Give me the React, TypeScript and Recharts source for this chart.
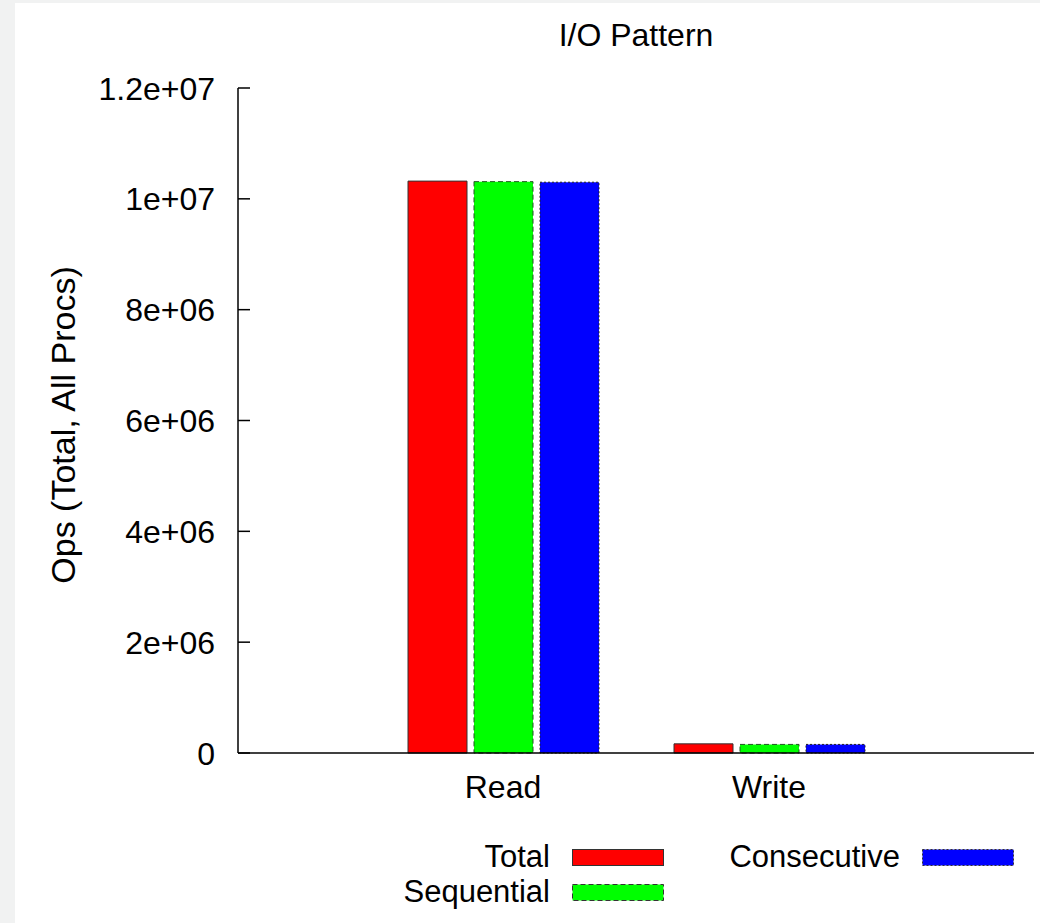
import React from 'react';
import { BarChart, Bar, XAxis, YAxis, Legend, Label } from 'recharts';

const categories = ['Read', 'Write'];
const totalOps = [10320000, 165000];
const sequentialOps = [10310000, 155000];
const consecutiveOps = [10300000, 155000];
const yTicks = [0, 2000000, 4000000, 6000000, 8000000, 10000000, 12000000];
const seriesNames = ['Total', 'Sequential', 'Consecutive'];

const data = categories.map((name, i) => ({
  name,
  Total: totalOps[i],
  Sequential: sequentialOps[i],
  Consecutive: consecutiveOps[i],
}));

const FONT = '"Liberation Sans", Arial, Helvetica, sans-serif';
const FS = 32;

// gnuplot style %g labels
const fmt = (v: number) => (v === 0 ? '0' : v.toExponential().replace(/e\+(\d)$/, 'e+0$1'));

const YTick = (props: any) => {
  const { x, y, payload } = props;
  return (
    <g>
      <line x1={x} y1={y} x2={x + 12} y2={y} stroke="#000" strokeWidth={1.5} />
      <text x={x - 23} y={y} dy="0.36em" textAnchor="end" fontSize={FS} fontFamily={FONT} fill="#000">
        {fmt(payload.value)}
      </text>
    </g>
  );
};

const swatches: Record<string, { fill: string; dash?: string }> = {
  Total: { fill: '#ff0000' },
  Sequential: { fill: '#00ff00', dash: '5 3' },
  Consecutive: { fill: '#0000ff', dash: '2 2' },
};

// key laid out column-wise like gnuplot: Total, Sequential | Consecutive
const KeyContent = (props: any) => {
  const items = props.payload || [];
  return (
    <div style={{ position: 'relative', height: 0 }}>
      {items.map((it: any) => {
        const i = seriesNames.indexOf(it.value);
        const col = i < 2 ? 0 : 1;
        const row = i < 2 ? i : i - 2;
        const right = col === 0 ? 535 : 885;
        const cy = row === 0 ? -1 : 34;
        const sw = swatches[it.value];
        return (
          <div key={it.value}>
            <div style={{ position: 'absolute', left: right - 300, width: 300, top: cy - 15, height: 30, textAlign: 'right', fontFamily: FONT, fontSize: 31, lineHeight: '30px', color: '#000' }}>
              {it.value}
            </div>
            <svg style={{ position: 'absolute', left: right + 22, top: cy - 8 }} width={92} height={17}>
              <rect x={0.5} y={0.5} width={91} height={16} fill={sw.fill} stroke="#333" strokeDasharray={sw.dash} />
            </svg>
          </div>
        );
      })}
    </div>
  );
};

export default function App() {
  return (
    <div style={{ position: 'absolute', left: 0, top: 0, width: 1040, height: 923, background: '#f1f2f2' }}>
      <div style={{ position: 'absolute', left: 15, top: 3, width: 1025, height: 920, background: '#fff' }}>
        <div style={{ position: 'absolute', left: 0, width: 1242, top: 14, textAlign: 'center', fontFamily: FONT, fontSize: 32, color: '#000' }}>
          I/O Pattern
        </div>
        <BarChart
          width={1025}
          height={920}
          data={data}
          margin={{ top: 85, right: 6, left: 0, bottom: 130 }}
          barSize={59}
          barGap={7}
          style={{ position: 'absolute', left: 0, top: 0 }}
        >
          <XAxis
            dataKey="name"
            height={40}
            padding={{ left: 132, right: 132 }}
            axisLine={{ stroke: '#000', strokeWidth: 1.5 }}
            tickLine={false}
            tickSize={0}
            tickMargin={22}
            tick={{ fill: '#000', fontSize: FS, fontFamily: FONT }}
          />
          <YAxis
            width={223}
            domain={[0, 12000000]}
            ticks={yTicks}
            interval={0}
            axisLine={{ stroke: '#000', strokeWidth: 1.5 }}
            tickLine={false}
            tickSize={0}
            tickMargin={0}
            tick={<YTick />}
          >
            <Label
              content={() => (
                <text
                  x={48}
                  y={422}
                  transform="rotate(-90, 48, 422)"
                  textAnchor="middle"
                  dominantBaseline="central"
                  fontSize={34}
                  fontFamily={FONT}
                  fill="#000"
                >
                  Ops (Total, All Procs)
                </text>
              )}
            />
          </YAxis>
          <Legend content={<KeyContent />} wrapperStyle={{ left: 0, top: 855, width: 1025 }} />
          <Bar dataKey="Total" fill="#ff0000" stroke="#333" strokeWidth={1} isAnimationActive={false} />
          <Bar dataKey="Sequential" fill="#00ff00" stroke="#225522" strokeDasharray="5 3" strokeWidth={1} isAnimationActive={false} />
          <Bar dataKey="Consecutive" fill="#0000ff" stroke="#222" strokeDasharray="2 2" strokeWidth={1} isAnimationActive={false} />
        </BarChart>
      </div>
    </div>
  );
}
